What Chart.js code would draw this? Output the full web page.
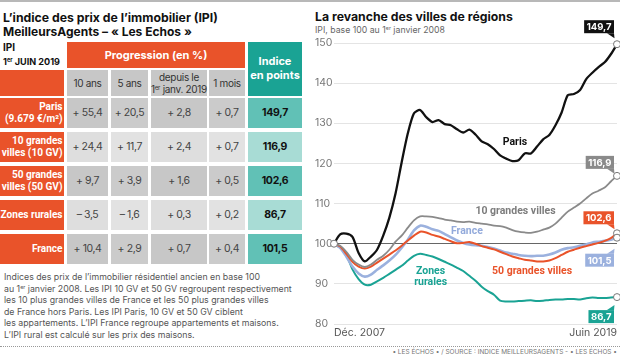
<!DOCTYPE html>
<html><head><meta charset="utf-8">
<script src="https://cdn.jsdelivr.net/npm/chart.js@4.4.1/dist/chart.umd.min.js"></script>
<style>
body{margin:0;width:620px;height:357px;position:relative;overflow:hidden;background:#fff;font-family:Inter,'Noto Sans',sans-serif;color:#222}
.t{position:absolute;white-space:nowrap;line-height:1.15;transform:translateY(-50%)}
.c{position:absolute;display:flex;flex-direction:column;align-items:center;justify-content:center;text-align:center;line-height:1.15;box-sizing:border-box;white-space:nowrap}
sup{font-size:0.62em;line-height:0;vertical-align:0;position:relative;top:-0.5em}
#chartwrap{position:absolute;left:305px;top:0;width:315px;height:345px}
</style></head>
<body>
<div style="position:absolute;left:0;top:0;width:620px;height:2px;background:#b8b8b8"></div>
<div class="t fit" data-w="215" style="left:3px;top:17.5px;font-weight:700;font-size:13.5px;color:#111">L’indice des prix de l’immobilier (IPI)</div>
<div class="t fit" data-w="189" style="left:3px;top:31.5px;font-weight:700;font-size:13.5px;color:#111">MeilleursAgents – « Les Echos »</div>
<div class="t" style="left:3px;top:48px;font-weight:700;font-size:10px;color:#111">IPI</div>
<div class="t fit" data-w="57" style="left:3px;top:61.5px;font-weight:700;font-size:10px;color:#111">1<sup>er</sup> JUIN 2019</div>

<div class="t fit" data-w="198" style="left:315px;top:17px;font-weight:700;font-size:13.5px;color:#111">La revanche des villes de régions</div>
<div class="t fit" data-w="130" style="left:315px;top:30px;font-weight:400;font-size:10.5px;color:#666">IPI, base 100 au 1<sup>er</sup> janvier 2008</div>

<div id="desc" style="position:absolute;left:4px;top:272px;font-size:10.5px;line-height:11.6px;color:#555;white-space:nowrap">
<div>Indices des prix de l’immobilier résidentiel ancien en base 100</div>
<div id="descfit">au 1<sup>er</sup> janvier 2008. Les IPI 10 GV et 50 GV regroupent respectivement</div>
<div>les 10 plus grandes villes de France et les 50 plus grandes villes</div>
<div>de France hors Paris. Les IPI Paris, 10 GV et 50 GV ciblent</div>
<div>les appartements. L’IPI France regroupe appartements et maisons.</div>
<div>L’IPI rural est calculé sur les prix des maisons.</div>
</div>

<div style="position:absolute;left:0;top:346px;width:620px;height:0;border-top:1px dotted #999"></div>
<div class="t fit" data-w="225" style="right:3px;top:352.5px;font-size:7px;color:#777">• LES ÉCHOS • / SOURCE : INDICE MEILLEURSAGENTS - • LES ÉCHOS •</div>

<div id="chartwrap"><canvas id="c" width="315" height="345" style="width:315px;height:345px"></canvas></div>

<script>
// ---------- DATA ----------
const rowLabels = [['Paris', '(9.679 €/m²)'], ['10 grandes', 'villes (10 GV)'], ['50 grandes', 'villes (50 GV)'], ['Zones rurales'], ['France']];
const colHeaders = ['10 ans', '5 ans', 'depuis le<br>1<sup>er</sup> janv. 2019', '1 mois'];
const prog10ans = [55.4, 24.4, 9.7, -3.5, 10.4];
const prog5ans = [20.5, 11.7, 3.9, -1.6, 2.9];
const progDepuisJanv = [2.8, 2.4, 1.6, 0.3, 0.7];
const prog1mois = [0.7, 0.7, 0.5, 0.2, 0.4];
const indicePoints = [149.7, 116.9, 102.6, 86.7, 101.5];

const seriesNames = ['Paris', '10 grandes villes', '50 grandes villes', 'Zones rurales', 'France'];
const xTickLabels = ['Déc. 2007', 'Juin 2019'];
// quarterly points, Dec 2007 .. Jun 2019
const quarters = [];
for (let i = 0; i < 47; i++) { const m = 11 + 3 * i; quarters.push((2007 + Math.floor(m / 12)) + '-' + String(m % 12 + 1).padStart(2, '0')); }

const paris = [100, 102.3, 102.5, 101.7, 97.7, 95.6, 96.8, 98.5, 102, 106.5, 112.5, 120.3, 127.5, 132.5, 133.3, 131.5, 130.3, 130.8, 129.8, 129.5, 128.5, 127.7, 128.4, 127.2, 125.5, 124.8, 123.6, 122, 121.2, 120.6, 120.8, 122.5, 122.5, 124.2, 126, 127.1, 129.5, 132.7, 137, 137.3, 138.3, 141, 142.6, 144, 145.2, 147.2, 149.7];
const villes10 = [100, 99.5, 98, 96, 94.8, 94.2, 94.8, 96, 97, 98.5, 100.5, 102, 104, 105.8, 106.8, 106.8, 106.7, 106.4, 106, 105.8, 105.5, 105.4, 105.5, 105.2, 105, 104.8, 104.5, 104.4, 104, 103.4, 103, 102.8, 102.7, 103, 103.5, 104, 105, 106.5, 108, 109, 110, 111.3, 112.5, 113.2, 114, 115.5, 116.9];
const villes50 = [100, 99.3, 97.5, 95.5, 94.3, 93.8, 94.3, 95.3, 96.3, 97.3, 98.3, 99.5, 100.8, 102, 103, 102.8, 102.2, 101.8, 101.2, 100.6, 100.1, 100.2, 100.4, 100, 99.4, 99, 98.6, 98, 97.4, 96.8, 96.4, 96, 95.8, 95.6, 95.6, 95.8, 96.4, 97.2, 98, 98.5, 99, 99.4, 99.8, 100.2, 100.7, 101.4, 102.6];
const rurales = [100, 99, 97.3, 93.6, 91.2, 89.8, 89.8, 90.6, 91.5, 92.5, 93.5, 94.5, 95.8, 97, 97.5, 97.2, 96.8, 96.2, 95.5, 94.8, 94, 93.2, 92, 90.8, 89.3, 88.2, 87.3, 85.8, 85.6, 85.6, 85.7, 85.8, 85.9, 85.7, 85.8, 86, 86.1, 86.1, 86.2, 86.2, 86.1, 86.4, 86.6, 86.5, 86.5, 86.6, 86.7];
const france = [100, 99, 96.8, 94.3, 92.6, 91.8, 92.3, 93.5, 94.6, 95.8, 97.2, 99, 101, 103.3, 104.5, 104.2, 103.6, 103.2, 102.4, 101.6, 100.8, 100.2, 99.8, 99.6, 99.5, 99.2, 98.8, 98.3, 97.8, 97.5, 97.2, 97, 96.9, 97, 97, 97.3, 97.8, 98.5, 98.9, 99.1, 99.5, 99.8, 100.3, 100.5, 100.7, 101, 101.5];
const yTicks = [80, 90, 100, 110, 120, 130, 140, 150];

// ---------- STYLE ----------
const ORANGE = '#e9532a', TEAL_H = '#1aa394', TEAL_D = '#61c1b6', TEAL_L = '#a8dcd5', GRAY_D = '#c7c7c7', GRAY_L = '#dedede';
const fmt = v => (v < 0 ? '– ' : '+ ') + Math.abs(v).toFixed(1).replace('.', ',');
const fmtN = v => v.toFixed(1).replace('.', ',');

document.querySelectorAll('.fit').forEach(el => {
  const w = el.getBoundingClientRect().width; const fs = parseFloat(getComputedStyle(el).fontSize);
  el.style.fontSize = (fs * (+el.dataset.w) / w) + 'px';
});
(function () {
  const el = document.getElementById('descfit'); const r = document.createRange(); r.selectNodeContents(el);
  const w = r.getBoundingClientRect().width; const d = document.getElementById('desc');
  d.style.fontSize = (10.5 * 288 / w) + 'px';
})();

// ---------- TABLE ----------
function cell(x, y, w, h, bg, html, css) {
  const d = document.createElement('div'); d.className = 'c';
  d.style.cssText = `left:${x}px;top:${y}px;width:${w}px;height:${h}px;background:${bg};` + (css || '');
  d.innerHTML = '<div>' + html + '</div>'; document.body.appendChild(d); return d;
}
const colX = [0, 67, 111, 151, 209, 248], colW = [64, 41, 37, 56, 36, 54];
const rowY = [98, 132, 166, 200, 234], rowH = 30;
cell(67, 42, 178, 26, ORANGE, 'Progression (en %)', 'color:#fff;font-weight:700;font-size:11px');
cell(248, 42, 54, 54, TEAL_H, 'Indice<br>en points', 'color:#fff;font-weight:700;font-size:11px;line-height:1.25');
cell(0, 70, 64, 26, ORANGE, '');
colHeaders.forEach((h, j) => cell(colX[j + 1], 70, colW[j + 1], 26, GRAY_D, h, 'color:#333;font-size:10px;letter-spacing:-0.3px;line-height:1.2'));
const cols = [prog10ans, prog5ans, progDepuisJanv, prog1mois];
const HEAD_FONT = "Roboto, Inter, sans-serif";
const probe = document.createElement('span');
probe.style.cssText = `position:absolute;visibility:hidden;white-space:nowrap;font-family:${HEAD_FONT};font-weight:700;font-size:11px`;
document.body.appendChild(probe);
let maxW = 0; rowLabels.flat().forEach(s => { probe.textContent = s; maxW = Math.max(maxW, probe.getBoundingClientRect().width); });
probe.remove();
const headFs = Math.min(11, 11 * 62 / maxW);
rowLabels.forEach((lab, i) => {
  const dark = i % 2 === 0;
  cell(0, rowY[i], 64, rowH, ORANGE, lab.join('<br>'), `align-items:flex-end;text-align:right;padding-right:1.5px;color:#fff;font-family:${HEAD_FONT};font-weight:700;font-size:${headFs}px;line-height:1.2`);
  cols.forEach((arr, j) => cell(colX[j + 1], rowY[i], colW[j + 1], rowH, dark ? (j % 2 ? '#cbcbcb' : GRAY_D) : (j % 2 ? '#e2e2e2' : GRAY_L), fmt(arr[i]), 'color:#444;font-size:10.5px;letter-spacing:-0.4px'));
  cell(248, rowY[i], 54, rowH, dark ? TEAL_D : TEAL_L, fmtN(indicePoints[i]), 'color:#111;font-weight:700;font-size:10.5px;letter-spacing:-0.3px');
});

// ---------- CHART ----------
const FONT = 'Inter';
const LABEL_FONT = 'Roboto';
const seriesData = [paris, villes10, villes50, france, rurales];
const seriesColors = ['#111111', '#8a8a8a', '#e9532a', '#9bb1de', '#1aa394'];
const seriesWidths = [2.3, 1.8, 2, 2.6, 2];
const seriesIndice = [indicePoints[0], indicePoints[1], indicePoints[2], indicePoints[4], indicePoints[3]];
const boxStyle = [
  { bg: '#111111', above: true, gap: 11 },
  { bg: '#8a8a8a', above: true, gap: 7 },
  { bg: '#e9532a', above: true, gap: 9 },
  { bg: '#9bb1de', above: false, gap: 16 },
  { bg: '#1aa394', above: false, gap: 13 }
];
const labelAnchors = [
  { lines: ['Paris'], i: 29.4, v: 125.3, color: '#111' },
  { lines: ['10 grandes villes'], i: 29.5, v: 108.1, color: '#7d7d7d' },
  { lines: ['50 grandes villes'], i: 32.2, v: 93.0, color: '#e9532a' },
  { lines: ['France'], i: 21.6, v: 103.0, color: '#93aadb' },
  { lines: ['Zones', 'rurales'], i: 15.7, v: 93.2, color: '#1aa394' }
];

const overlay = {
  id: 'overlay',
  afterDatasetsDraw(chart) {
    const ctx = chart.ctx, xs = chart.scales.x, ys = chart.scales.y;
    ctx.save();
    ctx.font = `700 10.5px ${LABEL_FONT}`; ctx.textAlign = 'center'; ctx.textBaseline = 'middle';
    labelAnchors.forEach(a => {
      ctx.fillStyle = a.color;
      a.lines.forEach((t, k) => ctx.fillText(t, xs.getPixelForValue(a.i), ys.getPixelForValue(a.v) + k * 11.5));
    });
    ctx.font = `700 9.5px ${FONT}`;
    chart.data.datasets.forEach((ds, di) => {
      const meta = chart.getDatasetMeta(di); const p = meta.data[meta.data.length - 1];
      const st = boxStyle[di]; const txt = fmtN(seriesIndice[di]);
      const w = ctx.measureText(txt).width + 5, h = 13;
      const right = p.x - 3, left = right - w;
      const top = st.above ? p.y - st.gap - h : p.y + st.gap;
      ctx.fillStyle = st.bg; ctx.fillRect(left, top, w, h);
      ctx.beginPath();
      if (st.above) { ctx.moveTo(right - 7, top + h); ctx.lineTo(right, top + h); ctx.lineTo(right + 0.5, top + h + 5); }
      else { ctx.moveTo(right - 7, top); ctx.lineTo(right, top); ctx.lineTo(right + 0.5, top - 5); }
      ctx.closePath(); ctx.fill();
      ctx.fillStyle = '#fff'; ctx.textAlign = 'center'; ctx.fillText(txt, left + w / 2, top + h / 2 + 0.5);
    });
    chart.data.datasets.forEach((ds, di) => {
      const meta = chart.getDatasetMeta(di);
      const pts = di === 0 ? [meta.data[0], meta.data[meta.data.length - 1]] : [meta.data[meta.data.length - 1]];
      pts.forEach(p => { ctx.beginPath(); ctx.arc(p.x, p.y, 3.5, 0, Math.PI * 2); ctx.fillStyle = '#fff'; ctx.fill(); ctx.lineWidth = 1; ctx.strokeStyle = '#777'; ctx.stroke(); });
    });
    ctx.restore();
  }
};

new Chart(document.getElementById('c'), {
  type: 'line',
  data: {
    labels: quarters,
    datasets: seriesData.map((d, k) => ({
      label: seriesNames[[0, 1, 2, 4, 3][k]], data: d, borderColor: seriesColors[k], borderWidth: seriesWidths[k],
      pointRadius: 0, tension: 0.25, clip: false, fill: false, borderJoinStyle: 'round', borderCapStyle: 'round'
    }))
  },
  options: {
    responsive: false, animation: false, events: [],
    layout: { padding: { left: 10, right: 3, top: 43, bottom: 0 } },
    plugins: { legend: { display: false }, tooltip: { enabled: false } },
    scales: {
      x: {
        grid: { display: false, drawTicks: false }, border: { display: false },
        afterFit: s => { s.height = 21; },
        ticks: {
          autoSkip: false, maxRotation: 0, align: 'inner', padding: 3, color: '#555', font: { family: FONT, size: 10.5 },
          callback: (v, i, t) => i === 0 ? xTickLabels[0] : (i === t.length - 1 ? xTickLabels[1] : '')
        }
      },
      y: {
        min: 80, max: 150,
        afterFit: s => { s.width = 19; },
        afterBuildTicks: s => { s.ticks = yTicks.map(v => ({ value: v })); },
        border: { display: false },
        grid: { drawTicks: false, color: c => c.tick && c.tick.value === 100 ? '#666' : '#e4e4e4', lineWidth: 1 },
        ticks: { crossAlign: 'far', color: '#777', font: { family: FONT, size: 10.5 } }
      }
    }
  },
  plugins: [overlay]
});
</script>
</body></html>
